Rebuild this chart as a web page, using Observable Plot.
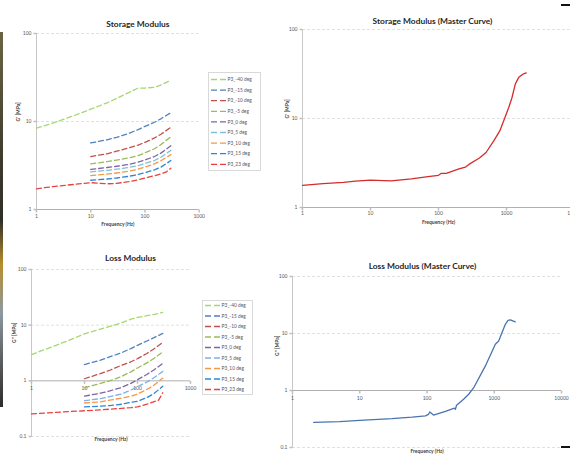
<!DOCTYPE html>
<html><head><meta charset="utf-8">
<script src="https://cdn.jsdelivr.net/npm/d3@7"></script>
<script src="https://cdn.jsdelivr.net/npm/@observablehq/plot@0.6"></script>
<style>
html,body{margin:0;padding:0;background:#fff;}
body{width:570px;height:454px;position:relative;overflow:hidden;font-family:Lato,"Open Sans",sans-serif;}
.panel{position:absolute;}
.strip{position:absolute;left:0;top:32px;width:3px;height:375px;background:linear-gradient(#6b6444,#3d3a2c 35%,#2f2e28 50%,#b88e2c 62%,#8c98a2 75%,#5a5c5e 88%,#2c2c2c);}
.mark{position:absolute;width:9px;height:2px;background:#111;}
</style></head>
<body>
<div class="strip"></div>
<div class="mark" style="left:561px;top:4px"></div>
<div class="mark" style="left:561px;top:446px"></div>
<div id="p1" class="panel" style="left:0;top:0"></div>
<div id="p2" class="panel" style="left:285px;top:0"></div>
<div id="p3" class="panel" style="left:0;top:232px"></div>
<div id="p4" class="panel" style="left:285px;top:232px"></div>
<script>
// ---------- data ----------
const seriesNames = ["P3_-40 deg","P3_-15 deg","P3_-10 deg","P3_-5 deg","P3_0 deg","P3_5 deg","P3_10 deg","P3_15 deg","P3_23 deg"];
const storageColors = ["#a5d86e","#4f81bd","#c0504d","#9bbb59","#8064a2","#7cc3d4","#f79646","#2e86d6","#e8423f"];
const lossColors    = ["#a5d86e","#4f81bd","#c0504d","#9bbb59","#8064a2","#7fb1e3","#f79646","#2e86d6","#e8423f"];

const freqLong  = [1,2,5,10,20,30,50,75,100,150,200,300];
const freqShort = [10,20,30,50,75,100,150,200,300];
const freq23    = [1,2,5,10,20,30,50,75,100,150,200,250,300];

// Storage modulus G' (MPa)
const storM40 = [8.4,9.6,11.7,13.8,16.3,18.3,21.3,24,24,24.5,26,29.5];
const storM15 = [5.7,6.2,6.6,7.3,8.1,8.8,9.8,10.8,12.6];
const storM10 = [4.0,4.3,4.6,5.0,5.4,5.8,6.5,7.2,8.6];
const storM5  = [3.3,3.5,3.65,3.85,4.1,4.4,4.9,5.5,6.7];
const stor0   = [2.85,3.0,3.1,3.25,3.45,3.65,4.0,4.4,5.3];
const stor5   = [2.68,2.78,2.87,3.0,3.15,3.33,3.6,3.95,4.7];
const stor10  = [2.43,2.52,2.6,2.72,2.87,3.03,3.3,3.6,4.2];
const stor15  = [2.15,2.22,2.28,2.38,2.5,2.62,2.82,3.05,3.6];
const stor23  = [1.72,1.82,1.93,2.02,1.96,1.98,2.07,2.17,2.28,2.42,2.55,2.68,2.95];

// Loss modulus G'' (MPa)
const lossM40 = [2.97,3.8,5.3,7.0,8.5,9.5,11.0,12.8,13.8,14.8,15.5,17];
const lossM15 = [1.96,2.35,2.7,3.2,3.8,4.35,5.2,5.9,7.1];
const lossM10 = [1.09,1.35,1.55,1.9,2.2,2.5,3.1,3.7,4.9];
const lossM5  = [0.75,0.9,1.0,1.2,1.45,1.7,2.1,2.5,3.3];
const loss0   = [0.53,0.6,0.66,0.76,0.9,1.05,1.3,1.55,2.05];
const loss5   = [0.44,0.48,0.52,0.58,0.68,0.79,0.95,1.12,1.48];
const loss10  = [0.40,0.42,0.45,0.49,0.53,0.58,0.7,0.82,1.12];
const loss15  = [0.34,0.35,0.36,0.38,0.41,0.43,0.5,0.58,0.8];
const loss23  = [0.255,0.265,0.28,0.29,0.3,0.31,0.32,0.33,0.34,0.38,0.42,0.45,0.61];

// Master curves
const masterStorFreq = [1,2,4,6,10,20,40,70,100,110,130,200,250,280,400,500,650,800,913,1082,1200,1350,1515,1740,1950];
const masterStorVal  = [1.77,1.85,1.92,1.98,2.03,1.99,2.1,2.22,2.3,2.42,2.42,2.72,2.85,3.05,3.6,4.15,5.6,7.3,9.5,13.4,17,24.5,29,31.5,32.5];
const masterLossFreq = [2.07,5,10,30,60,95,105,110,125,188,255,265,275,350,417,495,738,1038,1163,1462,1600,1740,2056];
const masterLossVal  = [0.275,0.285,0.30,0.32,0.34,0.36,0.38,0.42,0.37,0.43,0.49,0.47,0.55,0.7,0.86,1.12,2.7,6.5,7.4,14.5,17,17.4,16];

const ticks1to1000 = [1,10,100,1000];
const ticks1to10000 = [1,10,100,1000,10000];
const yTicksStor = [1,10,100];
const yTicksLoss = [0.1,1,10,100];

// ---------- helpers ----------
const zip = (xs, ys) => xs.map((x, i) => ({f: x, v: ys[i]}));
const tickL = {draw(c){c.moveTo(-3,0);c.lineTo(0,0);}};
const tickD = {draw(c){c.moveTo(0,0);c.lineTo(0,3);}};
const fmt = d => String(d);
const TXT = "#595959";

function panel(cfg) {
  const xmin = cfg.xDomain[0];
  const marks = [
    Plot.ruleY(cfg.grid, {stroke:"#d9d9d9", strokeDasharray:"3,2", strokeWidth:0.8}),
    Plot.ruleX([xmin], {stroke:"#c8c8c8", strokeWidth:1}),
    Plot.ruleY([1], {stroke:"#b0b0b0", strokeWidth:1}),
    Plot.dot(cfg.yTicks, {x: () => xmin, y: d => d, symbol: tickL, stroke:"#bfbfbf", fill:"none", r: 3}),
    Plot.dot(cfg.xTicks, {x: d => d, y: () => 1, symbol: tickD, stroke:"#bfbfbf", fill:"none", r: 3}),
    Plot.text(cfg.yTicks, {x: () => xmin, y: d => d, text: fmt, textAnchor:"end", dx:-5, fontSize:5, fill:TXT}),
    Plot.text(cfg.xTicks, {x: d => d, y: () => 1, text: fmt, dy: cfg.xLabelDy, fontSize:5, fill:TXT}),
    ...cfg.lines,
    Plot.text([cfg.title], {frameAnchor:"top", text: d => d, dx: cfg.titleDx, dy: cfg.titleDy, fontSize:8.4, fontWeight:"bold", fill:"#262626"}),
    Plot.text([cfg.xTitle], {frameAnchor:"bottom", text: d => d, dx: cfg.xTitleDx || 0, dy: cfg.xTitleDy, fontSize:5, fontWeight:"bold", fill:"#404040"}),
    Plot.text([cfg.yTitle], {frameAnchor:"left", text: d => d, rotate:-90, dx: cfg.yTitleDx, dy: cfg.yTitleDy || 0, fontSize:5, fontWeight:"bold", fill:"#404040"})
  ];
  const svg = Plot.plot({
    width: cfg.width, height: cfg.height,
    marginLeft: cfg.ml, marginRight: cfg.mr, marginTop: cfg.mt, marginBottom: cfg.mb,
    x: {type:"log", domain: cfg.xDomain, axis: null},
    y: {type:"log", domain: cfg.yDomain, axis: null},
    style: {background:"transparent", overflow:"visible", maxWidth:"none", fontFamily:"Lato, 'Open Sans', sans-serif"},
    marks
  });
  document.getElementById(cfg.el).appendChild(svg);
}

function legend(parent, left, top, w, h, y0, step, swX, txX, colors) {
  const ns = "http://www.w3.org/2000/svg";
  const svg = document.createElementNS(ns, "svg");
  svg.setAttribute("width", w + 2); svg.setAttribute("height", h + 2);
  svg.style.position = "absolute"; svg.style.left = left + "px"; svg.style.top = top + "px";
  svg.style.overflow = "visible";
  let s = `<rect x="0.5" y="0.5" width="${w}" height="${h}" fill="#fff" stroke="#d9d9d9"/>`;
  seriesNames.forEach((name, i) => {
    const y = y0 + i * step;
    s += `<line x1="${swX}" x2="${swX + 15}" y1="${y}" y2="${y}" stroke="${colors[i]}" stroke-width="1.3" stroke-dasharray="6,3"/>`;
    s += `<text x="${txX}" y="${y}" dy="0.35em" font-size="4.8" fill="${TXT}" font-family="Lato, 'Open Sans', sans-serif">${name}</text>`;
  });
  svg.innerHTML = s;
  document.getElementById(parent).appendChild(svg);
}

const dash = {strokeDasharray:"5,3", strokeWidth:1.3};
const storSets = [[freqLong,storM40],[freqShort,storM15],[freqShort,storM10],[freqShort,storM5],[freqShort,stor0],[freqShort,stor5],[freqShort,stor10],[freqShort,stor15],[freq23,stor23]];
const lossSets = [[freqLong,lossM40],[freqShort,lossM15],[freqShort,lossM10],[freqShort,lossM5],[freqShort,loss0],[freqShort,loss5],[freqShort,loss10],[freqShort,loss15],[freq23,loss23]];

// Panel 1: Storage Modulus
panel({
  el:"p1", width:285, height:232, ml:36, mr:86.3, mt:33, mb:23,
  xDomain:[1,1000], yDomain:[1,100], grid:[10,100],
  xTicks: ticks1to1000, yTicks: yTicksStor, xLabelDy: 7,
  lines: storSets.map(([f, v], i) => Plot.line(zip(f, v), {x:"f", y:"v", stroke: storageColors[i], ...dash})),
  title:"Storage Modulus", titleDx:20, titleDy:-12,
  xTitle:"Frequency (Hz)", xTitleDy:16,
  yTitle:"G' [MPa]", yTitleDx:-18
});
legend("p1", 207.5, 72, 52, 98, 7.5, 10.6, 3, 19.5, storageColors);

// Panel 2: Storage Master Curve
panel({
  el:"p2", width:300, height:232, ml:17, mr:11, mt:29, mb:25,
  xDomain:[1,10000], yDomain:[1,100], grid:[10,100],
  xTicks: ticks1to10000, yTicks: yTicksStor, xLabelDy: 6,
  lines: [Plot.line(zip(masterStorFreq, masterStorVal), {x:"f", y:"v", stroke:"#d42c2c", strokeWidth:1.3})],
  title:"Storage Modulus (Master Curve)", titleDx:-6, titleDy:-11,
  xTitle:"Frequency (Hz)", xTitleDy:16,
  yTitle:"G' [MPa]", yTitleDx:-15
});

// Panel 3: Loss Modulus
panel({
  el:"p3", width:285, height:222, ml:31, mr:95, mt:37, mb:18,
  xDomain:[1,1000], yDomain:[0.1,100], grid:[0.1,10,100],
  xTicks: ticks1to1000, yTicks: yTicksLoss, xLabelDy: 8,
  lines: lossSets.map(([f, v], i) => Plot.line(zip(f, v), {x:"f", y:"v", stroke: lossColors[i], ...dash})),
  title:"Loss Modulus", titleDx:19.5, titleDy:-14,
  xTitle:"Frequency (Hz)", xTitleDy:4,
  yTitle:"G'' [MPa]", yTitleDx:-17, yTitleDy:-10
});
legend("p3", 201.5, 68, 50, 94, 5.5, 10.5, 3, 19.5, lossColors);

// Panel 4: Loss Master Curve
panel({
  el:"p4", width:285, height:222, ml:7, mr:9, mt:44, mb:7,
  xDomain:[1,10000], yDomain:[0.1,100], grid:[0.1,10,100],
  xTicks: ticks1to10000, yTicks: yTicksLoss, xLabelDy: 8,
  lines: [Plot.line(zip(masterLossFreq, masterLossVal), {x:"f", y:"v", stroke:"#4a74b0", strokeWidth:1.3})],
  title:"Loss Modulus (Master Curve)", titleDx:-4.5, titleDy:-13,
  xTitle:"Frequency (Hz)", xTitleDy:5,
  yTitle:"G'' [MPa]", yTitleDx:-15, yTitleDy:-6
});
</script>
</body></html>
